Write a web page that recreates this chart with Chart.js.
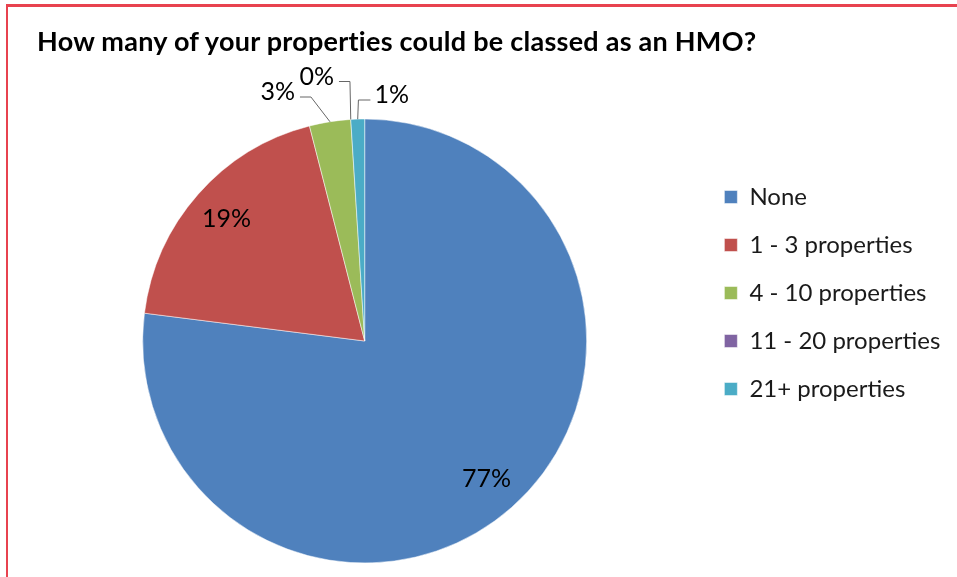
<!DOCTYPE html>
<html lang="en">
<head>
<meta charset="UTF-8">
<title>HMO properties</title>
<script src="https://cdn.jsdelivr.net/npm/chart.js"></script>
<style>
  html, body { margin: 0; padding: 0; background: #fff; overflow: hidden; }
  #frame {
    position: absolute; left: 6px; top: 4px; width: 1000px; height: 640px;
    border-top: 3px solid #e8424f; border-left: 2px solid #e8424f;
  }
  #title {
    position: absolute; left: 37px; top: 24px; z-index: 2;
    font: bold 27px Lato, sans-serif; color: #000; white-space: nowrap;
    letter-spacing: 0.25px;
    font-variant-ligatures: none;
    font-feature-settings: "liga" 0, "calt" 0;
  }
  #hmoChart { position: absolute; left: 0; top: 0; }
</style>
</head>
<body>
<div id="frame"></div>
<canvas id="hmoChart" width="957" height="577"></canvas>
<div id="title">How many of your properties could be classed as an HMO?</div>

<script>
    var categories = ['None', '1 - 3 properties', '4 - 10 properties', '11 - 20 properties', '21+ properties'];
    var shares = [77, 19, 3, 0, 1];
    var sliceColors = ['#4f81bd', '#c0504d', '#9bbb59', '#8064a2', '#4bacc6'];

    // small slices get their label outside the pie, placed relative to the centre
    var outsideLabels = {
        2: { dx: -87, dy: -249 },
        3: { dx: -48, dy: -264.5 },
        4: { dx: 27, dy: -246 }
    };

    var FONT = 'Lato';
    var LEGEND_SIZE = 24, LEGEND_GAP = 24, BOX = 13;
    var LEGEND_LEFT = 699;
    var SPACING = '0.1px';   // a little tracking, also keeps Lato from joining "ti"

    // work out how much room the legend needs so it starts at LEGEND_LEFT
    var measure = document.createElement('canvas').getContext('2d');
    measure.letterSpacing = SPACING;
    measure.font = LEGEND_SIZE + 'px ' + FONT;
    var widest = Math.max.apply(null, categories.map(function (c) {
        return measure.measureText(c).width;
    }));
    var rightPad = Math.max(0, 957 - LEGEND_LEFT - (LEGEND_GAP + BOX + LEGEND_SIZE / 2 + widest + 10));

    var sliceLabels = {
        id: 'sliceLabels',
        afterDatasetsDraw: function (chart) {
            var ctx = chart.ctx;
            var arcs = chart.getDatasetMeta(0).data;
            ctx.save();
            ctx.font = '25px ' + FONT;
            ctx.fillStyle = '#000';
            ctx.textAlign = 'center';
            ctx.textBaseline = 'middle';
            ctx.strokeStyle = '#666';
            ctx.lineWidth = 1;
            arcs.forEach(function (arc, i) {
                var p = arc.getProps(['x', 'y', 'startAngle', 'endAngle', 'outerRadius'], true);
                var mid = (p.startAngle + p.endAngle) / 2;
                var text = shares[i] + '%';
                var place = outsideLabels[i];
                if (!place) {
                    var r = p.outerRadius * 0.83;
                    ctx.fillText(text, p.x + Math.cos(mid) * r, p.y + Math.sin(mid) * r);
                    return;
                }
                var lx = p.x + place.dx, ly = p.y + place.dy;
                ctx.fillText(text, lx, ly);

                // leader line: short horizontal stub, then to the slice edge
                var ex = p.x + Math.cos(mid) * p.outerRadius;
                var ey = p.y + Math.sin(mid) * p.outerRadius;
                var half = ctx.measureText(text).width / 2;
                var ax, bx;
                if (lx < ex) { ax = lx + half + 5; bx = ax + 11; }
                else { ax = lx - half - 4; bx = ax - 12; }
                var lineY = ly + 5;
                ctx.beginPath();
                ctx.moveTo(ax, lineY);
                ctx.lineTo(bx, lineY);
                ctx.lineTo(ex, ey);
                ctx.stroke();
            });
            ctx.restore();
        }
    };

    var ctx = document.getElementById('hmoChart').getContext('2d');
    ctx.letterSpacing = SPACING;
    var hmoChart = new Chart(ctx, {
        type: 'pie',
        data: {
            labels: categories,
            datasets: [{
                data: shares,
                backgroundColor: sliceColors,
                borderColor: 'rgba(255,255,255,0.5)',
                borderWidth: 1,
                radius: 222,
                clip: false
            }]
        },
        options: {
            responsive: false,
            animation: false,
            layout: {
                padding: { left: 728 - LEGEND_LEFT, right: rightPad, top: 161, bottom: 56 }
            },
            plugins: {
                legend: {
                    position: 'right',
                    align: 'start',
                    labels: {
                        boxWidth: BOX,
                        boxHeight: BOX,
                        padding: LEGEND_GAP,
                        color: '#1a1a1a',
                        font: { family: FONT, size: LEGEND_SIZE }
                    }
                },
                tooltip: { enabled: false }
            }
        },
        plugins: [sliceLabels]
    });
</script>
</body>
</html>
